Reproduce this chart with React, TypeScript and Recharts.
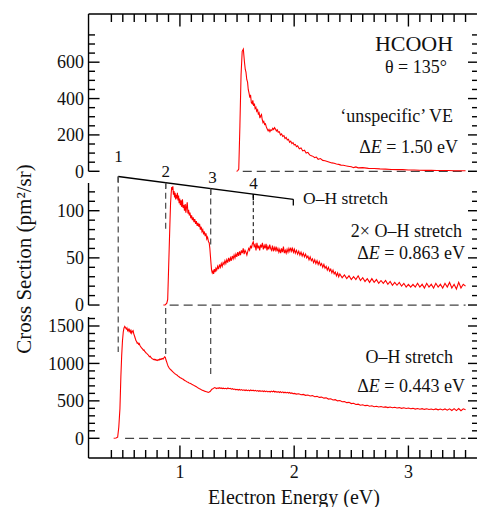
import React from 'react';
import { ComposedChart, Line, XAxis, YAxis, ReferenceLine } from 'recharts';

const W = 477;
const H = 507;
const FONT = "'Liberation Serif', 'Times New Roman', Times, serif";
const AX = 0.01; // near-zero axis thickness so all panel axes share the same frame edge

// ---------- axes ----------
const X_DOMAIN: [number, number] = [0.2, 3.6];
const X_TICKS = [0.4, 0.5, 0.6, 0.7, 0.8, 0.9, 1.0, 1.1, 1.2, 1.3, 1.4, 1.5, 1.6, 1.7, 1.8, 1.9, 2.0,
  2.1, 2.2, 2.3, 2.4, 2.5, 2.6, 2.7, 2.8, 2.9, 3.0, 3.1, 3.2, 3.3, 3.4, 3.5];

const P1_DOMAIN: [number, number] = [-1577, 865];
const P1_TICKS = [0, 50, 100, 150, 200, 250, 300, 350, 400, 450, 500, 550, 600, 650, 700, 750];
const P1_MAJOR = 200;
const P1_SPINE: [number, number] = [0, 865];

const P2_DOMAIN: [number, number] = [-162.2, 308.6];
const P2_TICKS = [0, 10, 20, 30, 40, 50, 60, 70, 80, 90, 100, 110, 120];
const P2_MAJOR = 50;
const P2_SPINE: [number, number] = [0, 129.4];

const P3_DOMAIN: [number, number] = [-263, 5667];
const P3_TICKS = [0, 100, 200, 300, 400, 500, 600, 700, 800, 900, 1000, 1100, 1200, 1300, 1400, 1500, 1600];
const P3_MAJOR = 500;
const P3_SPINE: [number, number] = [-263, 1620];

// ---------- spectra ([energy eV, cross section]) ----------
const VE_SPECTRUM: [number, number][] = [
  [1.495, 0], [1.505, 2], [1.515, 12], [1.525, 250], [1.535, 530], [1.545, 660], [1.555, 672], [1.565, 600],
  [1.572, 560], [1.578, 545], [1.585, 505], [1.592, 490], [1.598, 450], [1.605, 430], [1.612, 405], [1.618, 420],
  [1.625, 378], [1.632, 372], [1.638, 390], [1.645, 360], [1.652, 372], [1.658, 345], [1.665, 352], [1.672, 330],
  [1.68, 338], [1.686, 315], [1.693, 322], [1.7, 292], [1.707, 305], [1.714, 312], [1.72, 285], [1.727, 268],
  [1.734, 275], [1.741, 258], [1.748, 262], [1.756, 245], [1.764, 232], [1.772, 222], [1.78, 230], [1.788, 218],
  [1.796, 228], [1.804, 225], [1.812, 236], [1.82, 230], [1.828, 240], [1.836, 232], [1.844, 222], [1.852, 228],
  [1.86, 215], [1.87, 218], [1.88, 200], [1.89, 206], [1.9, 192], [1.91, 196], [1.92, 180], [1.93, 186],
  [1.94, 172], [1.95, 176], [1.96, 160], [1.97, 166], [1.98, 152], [1.99, 158], [2.0, 145], [2.01, 148],
  [2.02, 135], [2.03, 140], [2.045, 124], [2.06, 128], [2.075, 112], [2.09, 116], [2.105, 100], [2.12, 104],
  [2.135, 90], [2.15, 86], [2.165, 82], [2.18, 75], [2.195, 78], [2.21, 66], [2.23, 70], [2.25, 60],
  [2.27, 58], [2.29, 54], [2.31, 50], [2.33, 46], [2.35, 44], [2.37, 40], [2.39, 38], [2.41, 34],
  [2.43, 33], [2.45, 30], [2.47, 28], [2.5, 25], [2.52, 20], [2.54, 24], [2.56, 19], [2.6, 20],
  [2.65, 16], [2.7, 15], [2.75, 13], [2.8, 12], [2.85, 10], [2.9, 9], [2.95, 9], [3.0, 7],
  [3.05, 7], [3.1, 6], [3.15, 5], [3.2, 5], [3.25, 4], [3.3, 4], [3.35, 4], [3.4, 3], [3.45, 3], [3.5, 3],
];

const OH2_SPECTRUM: [number, number][] = [
  [0.855, 0], [0.87, 0], [0.885, 2], [0.893, 6], [0.9, 35], [0.906, 60], [0.912, 85], [0.918, 108],
  [0.923, 118], [0.928, 125], [0.933, 122], [0.938, 126], [0.943, 117], [0.948, 121], [0.953, 114], [0.958, 119],
  [0.963, 112], [0.968, 117], [0.973, 113], [0.978, 119], [0.983, 111], [0.988, 116], [0.993, 108], [0.998, 113],
  [1.004, 106], [1.01, 111], [1.016, 104], [1.022, 112], [1.028, 103], [1.034, 106], [1.04, 100], [1.046, 107],
  [1.052, 98], [1.058, 104], [1.064, 109], [1.07, 97], [1.076, 101], [1.082, 95], [1.088, 98], [1.095, 92],
  [1.102, 95], [1.109, 90], [1.116, 93], [1.123, 88], [1.13, 91], [1.137, 86], [1.144, 89], [1.151, 84],
  [1.158, 87], [1.165, 83], [1.172, 86], [1.179, 80], [1.186, 83], [1.193, 78], [1.2, 80], [1.207, 75],
  [1.214, 78], [1.221, 73], [1.228, 76], [1.235, 70], [1.242, 72], [1.25, 67], [1.256, 66], [1.262, 60],
  [1.267, 52], [1.272, 44], [1.277, 37], [1.283, 34], [1.289, 36], [1.295, 33], [1.301, 38], [1.308, 35],
  [1.315, 39], [1.322, 37], [1.33, 41], [1.338, 38], [1.346, 43], [1.354, 40], [1.362, 44], [1.37, 41],
  [1.378, 45], [1.386, 43], [1.394, 47], [1.402, 44], [1.41, 48], [1.418, 45], [1.426, 50], [1.434, 46],
  [1.442, 50], [1.45, 47], [1.458, 52], [1.466, 49], [1.474, 53], [1.482, 50], [1.49, 54], [1.498, 51],
  [1.506, 56], [1.514, 52], [1.522, 57], [1.53, 53], [1.538, 58], [1.546, 55], [1.554, 60], [1.562, 54],
  [1.57, 58], [1.578, 56], [1.586, 53], [1.594, 57], [1.602, 60], [1.61, 58], [1.618, 63], [1.626, 60],
  [1.634, 65], [1.642, 67], [1.65, 62], [1.658, 64], [1.666, 58], [1.674, 66], [1.682, 60], [1.69, 63],
  [1.698, 58], [1.706, 64], [1.714, 61], [1.722, 66], [1.73, 59], [1.738, 63], [1.746, 60], [1.754, 65],
  [1.762, 58], [1.77, 62], [1.778, 59], [1.786, 64], [1.794, 60], [1.802, 58], [1.81, 63], [1.818, 57],
  [1.826, 61], [1.834, 58], [1.842, 62], [1.85, 57], [1.858, 60], [1.866, 56], [1.874, 59], [1.882, 55],
  [1.89, 60], [1.898, 56], [1.906, 62], [1.914, 55], [1.922, 58], [1.93, 55], [1.938, 59], [1.946, 56],
  [1.954, 60], [1.962, 57], [1.97, 61], [1.978, 57], [1.986, 60], [1.994, 56], [2.002, 59], [2.01, 55],
  [2.02, 58], [2.03, 54], [2.04, 57], [2.05, 53], [2.06, 56], [2.07, 52], [2.08, 55], [2.09, 51],
  [2.1, 54], [2.11, 50], [2.12, 52], [2.13, 48], [2.14, 51], [2.15, 47], [2.16, 49], [2.17, 45],
  [2.18, 48], [2.19, 44], [2.2, 47], [2.21, 43], [2.22, 46], [2.23, 42], [2.24, 44], [2.25, 40],
  [2.26, 43], [2.27, 39], [2.28, 41], [2.29, 37], [2.3, 40], [2.31, 36], [2.32, 38], [2.33, 34],
  [2.34, 37], [2.35, 33], [2.36, 35], [2.37, 31], [2.38, 34], [2.39, 30], [2.4, 33], [2.42, 29],
  [2.44, 32], [2.46, 28], [2.48, 31], [2.5, 27], [2.52, 30], [2.54, 27], [2.56, 31], [2.58, 26],
  [2.6, 29], [2.62, 25], [2.64, 28], [2.66, 24], [2.68, 28], [2.7, 24], [2.72, 27], [2.74, 23],
  [2.76, 26], [2.78, 23], [2.8, 26], [2.82, 22], [2.84, 25], [2.86, 21], [2.88, 24], [2.9, 21],
  [2.92, 24], [2.94, 20], [2.96, 23], [2.98, 19], [3.0, 22], [3.02, 19], [3.04, 22], [3.06, 19],
  [3.08, 23], [3.1, 19], [3.12, 22], [3.14, 18], [3.16, 23], [3.18, 19], [3.2, 22], [3.22, 18],
  [3.24, 23], [3.26, 19], [3.28, 22], [3.3, 18], [3.32, 23], [3.34, 19], [3.36, 24], [3.38, 18],
  [3.4, 22], [3.42, 17], [3.44, 24], [3.46, 18], [3.48, 22], [3.5, 20],
];

const OH_SPECTRUM: [number, number][] = [
  [0.42, 0], [0.44, 3], [0.455, 15], [0.465, 150], [0.475, 400], [0.483, 820], [0.49, 1100], [0.497, 1300],
  [0.504, 1420], [0.51, 1470], [0.517, 1495], [0.523, 1480], [0.53, 1460], [0.536, 1475], [0.542, 1440], [0.548, 1455],
  [0.554, 1430], [0.56, 1450], [0.566, 1415], [0.572, 1440], [0.578, 1405], [0.584, 1430], [0.59, 1438], [0.596, 1395],
  [0.602, 1370], [0.608, 1340], [0.614, 1310], [0.62, 1295], [0.626, 1270], [0.632, 1275], [0.638, 1255], [0.644, 1265],
  [0.65, 1240], [0.656, 1225], [0.662, 1210], [0.668, 1200], [0.674, 1190], [0.68, 1175], [0.686, 1180], [0.692, 1160],
  [0.698, 1150], [0.704, 1140], [0.71, 1135], [0.716, 1120], [0.722, 1115], [0.728, 1100], [0.734, 1090], [0.74, 1095],
  [0.746, 1080], [0.752, 1070], [0.758, 1062], [0.764, 1058], [0.77, 1050], [0.776, 1055], [0.782, 1045], [0.788, 1052],
  [0.794, 1042], [0.8, 1048], [0.806, 1040], [0.812, 1050], [0.818, 1045], [0.824, 1058], [0.83, 1052], [0.836, 1062],
  [0.842, 1055], [0.848, 1066], [0.854, 1060], [0.86, 1075], [0.866, 1088], [0.872, 1082], [0.878, 1045], [0.884, 1020],
  [0.89, 990], [0.896, 965], [0.902, 948], [0.908, 935], [0.914, 925], [0.92, 915], [0.928, 905], [0.936, 890],
  [0.944, 880], [0.952, 868], [0.96, 858], [0.968, 850], [0.976, 842], [0.984, 830], [0.992, 822], [1.0, 812],
  [1.008, 805], [1.016, 798], [1.024, 792], [1.032, 785], [1.04, 772], [1.048, 768], [1.056, 760], [1.064, 752],
  [1.072, 748], [1.08, 740], [1.088, 735], [1.096, 730], [1.104, 722], [1.112, 715], [1.12, 710], [1.128, 702],
  [1.136, 695], [1.144, 688], [1.152, 680], [1.16, 672], [1.168, 665], [1.176, 660], [1.184, 652], [1.192, 645],
  [1.2, 640], [1.208, 635], [1.216, 630], [1.224, 626], [1.232, 622], [1.24, 618], [1.248, 612], [1.256, 618],
  [1.264, 625], [1.272, 640], [1.28, 655], [1.288, 662], [1.296, 670], [1.304, 678], [1.312, 672], [1.32, 665],
  [1.328, 672], [1.336, 668], [1.344, 675], [1.352, 666], [1.36, 672], [1.37, 664], [1.38, 670], [1.39, 662],
  [1.4, 668], [1.41, 660], [1.42, 672], [1.43, 662], [1.44, 668], [1.45, 656], [1.46, 663], [1.47, 652],
  [1.48, 658], [1.49, 648], [1.5, 655], [1.51, 645], [1.52, 652], [1.53, 642], [1.54, 650], [1.55, 640],
  [1.56, 648], [1.57, 638], [1.58, 646], [1.59, 636], [1.6, 644], [1.61, 634], [1.62, 645], [1.63, 636],
  [1.64, 642], [1.65, 632], [1.66, 640], [1.67, 630], [1.68, 638], [1.69, 628], [1.7, 636], [1.71, 626],
  [1.72, 634], [1.73, 624], [1.74, 632], [1.75, 622], [1.76, 630], [1.77, 620], [1.78, 628], [1.79, 618],
  [1.8, 630], [1.81, 620], [1.82, 632], [1.83, 618], [1.84, 626], [1.85, 614], [1.86, 624], [1.87, 612],
  [1.88, 622], [1.89, 610], [1.9, 620], [1.91, 608], [1.92, 616], [1.93, 606], [1.94, 614], [1.95, 604],
  [1.96, 612], [1.97, 600], [1.98, 606], [1.99, 596], [2.0, 600], [2.02, 590], [2.04, 594], [2.06, 582],
  [2.08, 586], [2.1, 574], [2.12, 578], [2.14, 566], [2.16, 570], [2.18, 556], [2.2, 560], [2.22, 546],
  [2.24, 550], [2.26, 536], [2.28, 540], [2.3, 524], [2.32, 528], [2.34, 512], [2.36, 516], [2.38, 500],
  [2.4, 504], [2.42, 488], [2.44, 492], [2.46, 476], [2.48, 480], [2.5, 464], [2.52, 468], [2.54, 452],
  [2.56, 456], [2.58, 442], [2.6, 448], [2.62, 436], [2.64, 440], [2.66, 428], [2.68, 434], [2.7, 422],
  [2.72, 428], [2.74, 418], [2.76, 424], [2.78, 414], [2.8, 420], [2.82, 410], [2.84, 418], [2.86, 408],
  [2.88, 414], [2.9, 404], [2.92, 410], [2.94, 400], [2.96, 408], [2.98, 398], [3.0, 404], [3.02, 394],
  [3.04, 400], [3.06, 390], [3.08, 398], [3.1, 388], [3.12, 396], [3.14, 386], [3.16, 394], [3.18, 384],
  [3.2, 392], [3.22, 382], [3.24, 392], [3.26, 380], [3.28, 390], [3.3, 378], [3.32, 392], [3.34, 376],
  [3.36, 394], [3.38, 372], [3.4, 396], [3.42, 370], [3.44, 398], [3.46, 368], [3.48, 394], [3.5, 380],
];

// zero (baseline) lines: [start energy, end energy]
const VE_BASE: [number, number] = [1.55, 3.5];
const OH2_BASE: [number, number] = [0.91, 3.5];
const OH_BASE: [number, number] = [0.52, 3.5];

// O-H stretch progression markers (energies, labels, top of marker on ladder line in panel-2 units)
const MARKER_E = [0.46, 0.875, 1.269, 1.642];
const MARKER_LABELS = ['1', '2', '3', '4'];
const MARKER_TOP = [136.3, 129.75, 123.5, 117.6];
const LADDER_END: [number, number] = [1.9925, 112.1];
// dashed drop lines: panel-2 segments [E, yTop, yBottom]
const DROP_P2: [number, number, number][] = [
  [0.46, 136.3, -49.8],
  [0.875, 129.75, 77.4],
  [1.269, 123.5, 63.6],
  [1.642, 117.6, 66.8],
];
// panel-3 segments [E, yTop, yBottom]
const DROP_P3: [number, number, number][] = [
  [0.875, 1740, 1113],
  [1.269, 1740, 805],
];

const toRows = (a: [number, number][]) => a.map(([x, y]) => ({ x, y }));

function yTick(major: number, side: 'left' | 'right') {
  return (props: any) => {
    const { x, y, payload } = props;
    const v = Number(payload.value);
    const isMajor = Math.abs(v / major - Math.round(v / major)) < 1e-6;
    if (side === 'left') {
      const len = isMajor ? 11 : 6.5;
      return (
        <g>
          <line x1={x} y1={y} x2={x + len} y2={y} stroke="#000" strokeWidth={1.4} />
          {isMajor && (
            <text x={x - 4.5} y={y + 6.3} textAnchor="end" fontSize={18} fontFamily={FONT} fill="#111">
              {v}
            </text>
          )}
        </g>
      );
    }
    const len = isMajor ? 9 : 5;
    return <line x1={x} y1={y} x2={x - len} y2={y} stroke="#000" strokeWidth={1.4} />;
  };
}

function xTick(side: 'bottom' | 'top') {
  return (props: any) => {
    const { x, y, payload } = props;
    const v = Number(payload.value);
    const isMajor = Math.abs(v - Math.round(v)) < 1e-6;
    const len = isMajor ? 12.5 : 8;
    if (side === 'bottom') {
      return (
        <g>
          <line x1={x} y1={y} x2={x} y2={y - len} stroke="#000" strokeWidth={1.4} />
          {isMajor && (
            <text x={x} y={y + 20} textAnchor="middle" fontSize={18} fontFamily={FONT} fill="#111">
              {Math.round(v)}
            </text>
          )}
        </g>
      );
    }
    return <line x1={x} y1={y} x2={x} y2={y + len} stroke="#000" strokeWidth={1.4} />;
  };
}

const txt = (extra: any = {}) => ({ fontFamily: FONT, fill: '#111', ...extra });

export default function App() {
  const dashGray = '#555';
  return (
    <div style={{ position: 'absolute', left: 0, top: 0, width: W, height: H, background: '#fff' }}>
      <ComposedChart width={W} height={H} margin={{ top: 14, right: 0, bottom: 49, left: 88.5 }}>
        <XAxis xAxisId={0} type="number" dataKey="x" domain={X_DOMAIN} ticks={X_TICKS} interval={0}
          allowDataOverflow orientation="bottom" height={AX} tickSize={0} tickMargin={0}
          tickLine={false} axisLine={{ stroke: '#000', strokeWidth: 1.4 }} tick={xTick('bottom')} />
        <XAxis xAxisId="top" type="number" dataKey="x" domain={X_DOMAIN} ticks={X_TICKS} interval={0}
          allowDataOverflow orientation="top" height={AX} tickSize={0} tickMargin={0}
          tickLine={false} axisLine={{ stroke: '#000', strokeWidth: 1.4 }} tick={xTick('top')} />

        <YAxis yAxisId="p1" type="number" domain={P1_DOMAIN} ticks={P1_TICKS} interval={0} allowDataOverflow
          width={AX} tickSize={0} tickMargin={0} tickLine={false} axisLine={false} tick={yTick(P1_MAJOR, 'left')} />
        <YAxis yAxisId="p2" type="number" domain={P2_DOMAIN} ticks={P2_TICKS} interval={0} allowDataOverflow
          width={AX} tickSize={0} tickMargin={0} tickLine={false} axisLine={false} tick={yTick(P2_MAJOR, 'left')} />
        <YAxis yAxisId="p3" type="number" domain={P3_DOMAIN} ticks={P3_TICKS} interval={0} allowDataOverflow
          width={AX} tickSize={0} tickMargin={0} tickLine={false} axisLine={false} tick={yTick(P3_MAJOR, 'left')} />
        <YAxis yAxisId="p1r" orientation="right" type="number" domain={P1_DOMAIN} ticks={P1_TICKS} interval={0}
          allowDataOverflow width={AX} tickSize={0} tickMargin={0} tickLine={false} axisLine={false}
          tick={yTick(P1_MAJOR, 'right')} />
        <YAxis yAxisId="p2r" orientation="right" type="number" domain={P2_DOMAIN} ticks={P2_TICKS} interval={0}
          allowDataOverflow width={AX} tickSize={0} tickMargin={0} tickLine={false} axisLine={false}
          tick={yTick(P2_MAJOR, 'right')} />
        <YAxis yAxisId="p3r" orientation="right" type="number" domain={P3_DOMAIN} ticks={P3_TICKS} interval={0}
          allowDataOverflow width={AX} tickSize={0} tickMargin={0} tickLine={false} axisLine={false}
          tick={yTick(P3_MAJOR, 'right')} />

        {/* left spines per panel */}
        <ReferenceLine yAxisId="p1" ifOverflow="visible" stroke="#000" strokeWidth={1.4}
          segment={[{ x: X_DOMAIN[0], y: P1_SPINE[0] }, { x: X_DOMAIN[0], y: P1_SPINE[1] }]} />
        <ReferenceLine yAxisId="p2" ifOverflow="visible" stroke="#000" strokeWidth={1.4}
          segment={[{ x: X_DOMAIN[0], y: P2_SPINE[0] }, { x: X_DOMAIN[0], y: P2_SPINE[1] }]} />
        <ReferenceLine yAxisId="p3" ifOverflow="visible" stroke="#000" strokeWidth={1.4}
          segment={[{ x: X_DOMAIN[0], y: P3_SPINE[0] }, { x: X_DOMAIN[0], y: P3_SPINE[1] }]} />

        {/* zero baselines */}
        <ReferenceLine yAxisId="p1" ifOverflow="visible" stroke="#444" strokeWidth={1.3} strokeDasharray="9 5"
          segment={[{ x: VE_BASE[0], y: 0 }, { x: VE_BASE[1], y: 0 }]} />
        <ReferenceLine yAxisId="p2" ifOverflow="visible" stroke="#444" strokeWidth={1.3} strokeDasharray="9 5"
          segment={[{ x: OH2_BASE[0], y: 0 }, { x: OH2_BASE[1], y: 0 }]} />
        <ReferenceLine yAxisId="p3" ifOverflow="visible" stroke="#444" strokeWidth={1.3} strokeDasharray="9 5"
          segment={[{ x: OH_BASE[0], y: 0 }, { x: OH_BASE[1], y: 0 }]} />

        {/* ladder */}
        <ReferenceLine yAxisId="p2" ifOverflow="visible" stroke="#000" strokeWidth={1.3}
          segment={[{ x: MARKER_E[0], y: MARKER_TOP[0] }, { x: LADDER_END[0], y: LADDER_END[1] }]} />
        {MARKER_E.map((e, i) => (
          <ReferenceLine key={'t' + i} yAxisId="p2" ifOverflow="visible" stroke="#000" strokeWidth={1.3}
            segment={[{ x: e, y: MARKER_TOP[i] }, { x: e, y: MARKER_TOP[i] - 6.5 }]} />
        ))}
        <ReferenceLine yAxisId="p2" ifOverflow="visible" stroke="#000" strokeWidth={1.3}
          segment={[{ x: LADDER_END[0], y: LADDER_END[1] }, { x: LADDER_END[0], y: LADDER_END[1] - 6.5 }]} />
        {DROP_P2.map(([e, a, b], i) => (
          <ReferenceLine key={'d2' + i} yAxisId="p2" ifOverflow="visible"
            stroke={i === 3 ? '#000' : dashGray} strokeWidth={i === 3 ? 1 : 1.3}
            strokeDasharray={i === 3 ? '4 3' : '6 4'}
            segment={[{ x: e, y: a }, { x: e, y: b }]} />
        ))}
        {DROP_P3.map(([e, a, b], i) => (
          <ReferenceLine key={'d3' + i} yAxisId="p3" ifOverflow="visible" stroke={dashGray} strokeWidth={1.3}
            strokeDasharray="6 4" segment={[{ x: e, y: a }, { x: e, y: b }]} />
        ))}

        <Line data={toRows(VE_SPECTRUM)} dataKey="y" yAxisId="p1" type="linear" stroke="#ff0000"
          strokeWidth={1.1} dot={false} isAnimationActive={false} />
        <Line data={toRows(OH2_SPECTRUM)} dataKey="y" yAxisId="p2" type="linear" stroke="#ff0000"
          strokeWidth={1.1} dot={false} isAnimationActive={false} />
        <Line data={toRows(OH_SPECTRUM)} dataKey="y" yAxisId="p3" type="linear" stroke="#ff0000"
          strokeWidth={1.1} dot={false} isAnimationActive={false} />
      </ComposedChart>

      <svg width={W} height={H} style={{ position: 'absolute', left: 0, top: 0, pointerEvents: 'none' }}>
        <text x={414} y={51} textAnchor="middle" fontSize={22} {...txt()}>HCOOH</text>
        <text x={416} y={73} textAnchor="middle" fontSize={18} {...txt()}>θ = 135°</text>
        <text x={453} y={122} textAnchor="end" fontSize={18} {...txt()}>‘unspecific’ VE</text>
        <text x={458} y={153} textAnchor="end" fontSize={18} {...txt()}>Δ<tspan fontStyle="italic">E</tspan> = 1.50 eV</text>

        <text x={303} y={204} textAnchor="start" fontSize={17.5} {...txt()}>O–H stretch</text>
        <text x={462} y={237} textAnchor="end" fontSize={18} {...txt()}>2× O–H stretch</text>
        <text x={465} y={259} textAnchor="end" fontSize={18} {...txt()}>Δ<tspan fontStyle="italic">E</tspan> = 0.863 eV</text>

        <text x={453} y={363} textAnchor="end" fontSize={18} {...txt()}>O–H stretch</text>
        <text x={465} y={392} textAnchor="end" fontSize={18} {...txt()}>Δ<tspan fontStyle="italic">E</tspan> = 0.443 eV</text>

        <text x={118.5} y={161.5} textAnchor="middle" fontSize={17} {...txt()}>{MARKER_LABELS[0]}</text>
        <text x={165.7} y={177} textAnchor="middle" fontSize={17} {...txt()}>{MARKER_LABELS[1]}</text>
        <text x={212.5} y={183} textAnchor="middle" fontSize={17} {...txt()}>{MARKER_LABELS[2]}</text>
        <text x={253.5} y={189} textAnchor="middle" fontSize={17} {...txt()}>{MARKER_LABELS[3]}</text>

        <text x={31} y={259} textAnchor="middle" fontSize={21} transform="rotate(-90 31 259)" {...txt()}>
          Cross Section (pm²/sr)
        </text>
        <text x={294} y={504} textAnchor="middle" fontSize={20} {...txt()}>Electron Energy (eV)</text>
      </svg>
    </div>
  );
}
